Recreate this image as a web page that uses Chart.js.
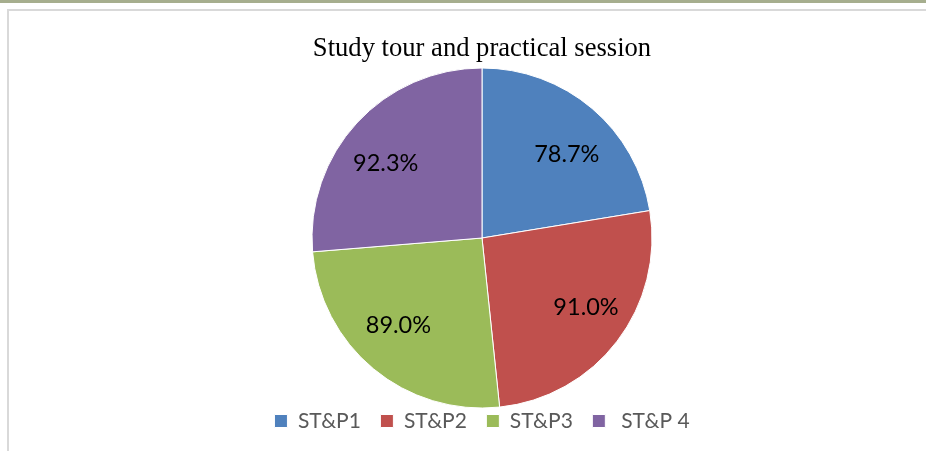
<!DOCTYPE html>
<html>
<head>
<meta charset="utf-8">
<script src="https://cdn.jsdelivr.net/npm/chart.js@4"></script>
<style>
  html, body { margin: 0; padding: 0; background: #fff; }
  body { width: 926px; height: 451px; position: relative; overflow: hidden; }
  #strip { position: absolute; left: 0; top: 0; width: 926px; height: 3px; background: #a6ae8e; }
  #frame { position: absolute; left: 7px; top: 9px; width: 930px; height: 450px;
           border-top: 2px solid #d9d9d9; border-left: 2px solid #d9d9d9; }
  #wrap { position: absolute; left: 0; top: 0; width: 926px; height: 451px; }
</style>
</head>
<body>
<div id="strip"></div>
<div id="frame"></div>
<div id="wrap"><canvas id="c" width="926" height="451"></canvas></div>
<script>
const categories = ['ST&P1', 'ST&P2', 'ST&P3', ' ST&P 4'];
const values = [78.7, 91.0, 89.0, 92.3];
const valueLabels = ['78.7%', '91.0%', '89.0%', '92.3%'];
const colors = ['#4F81BD', '#C0504D', '#9BBB59', '#8064A2'];
const chartTitle = 'Study tour and practical session';

const sliceLabels = {
  id: 'sliceLabels',
  afterDatasetsDraw(chart) {
    const ctx = chart.ctx;
    const meta = chart.getDatasetMeta(0);
    ctx.save();
    ctx.font = '23.5px Lato, "Open Sans", sans-serif';
    ctx.fillStyle = '#000';
    ctx.textAlign = 'center';
    ctx.textBaseline = 'middle';
    meta.data.forEach((arc, i) => {
      const p = arc.getProps(['x', 'y', 'startAngle', 'endAngle', 'outerRadius'], true);
      const mid = (p.startAngle + p.endAngle) / 2;
      const x = p.x + Math.cos(mid) * p.outerRadius * 0.77;
      const y = p.y + Math.sin(mid) * p.outerRadius * 0.66 + 1.5;
      ctx.fillText(valueLabels[i], x, y);
    });
    ctx.restore();
  }
};

new Chart(document.getElementById('c'), {
  type: 'pie',
  data: {
    labels: categories,
    datasets: [{
      data: values,
      backgroundColor: colors,
      borderColor: '#ffffff',
      borderWidth: 1,
      radius: 170,
      clip: false
    }]
  },
  options: {
    responsive: false,
    animation: false,
    layout: { padding: { top: 33.4, left: 38, right: 0, bottom: 9.5 } },
    plugins: {
      tooltip: { enabled: false },
      title: {
        display: true,
        text: chartTitle,
        color: '#000',
        font: { family: '"Liberation Serif", "Times New Roman", serif', size: 26.6, weight: 'normal' },
        padding: { top: 0, bottom: 19.7 }
      },
      legend: {
        position: 'bottom',
        labels: {
          color: '#595959',
          font: { family: 'Lato, "Open Sans", sans-serif', size: 21 },
          boxWidth: 13,
          boxHeight: 13,
          padding: 19.5
        }
      }
    }
  },
  plugins: [sliceLabels]
});
</script>
</body>
</html>
